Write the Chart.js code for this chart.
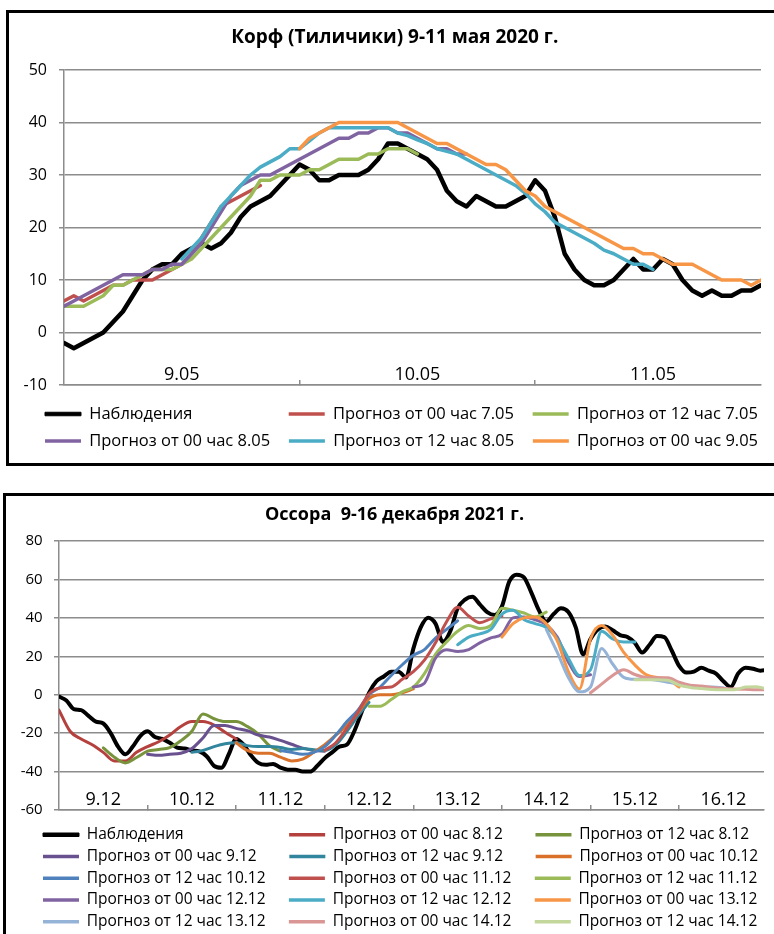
<!DOCTYPE html>
<html>
<head>
<meta charset="utf-8">
<script src="https://cdn.jsdelivr.net/npm/chart.js"></script>
<style>
  html, body { margin: 0; padding: 0; background: #fff; overflow: hidden; width: 774px; height: 934px; }
  .frame { position: absolute; border: 3px solid #000; box-sizing: border-box; }
  canvas { position: absolute; left: 0; }
</style>
</head>
<body>
<div class="frame" style="left:6px;top:10px;width:790px;height:456px"></div>
<div class="frame" style="left:3px;top:493px;width:790px;height:470px"></div>
<canvas id="korf" width="774" height="460" style="top:0"></canvas>
<canvas id="ossora" width="774" height="460" style="top:480px"></canvas>
<script>
const FONT = '"Open Sans", sans-serif';
const GRID = '#8c8c8c';

// ---------- Корф (Тиличики), hourly values, hour 0 = 00 h 9.05 ----------
const korfDays = ['9.05', '10.05', '11.05'];
const korfYTicks = [-10, 0, 10, 20, 30, 40, 50];
const korfLabels = ['Наблюдения', 'Прогноз от 00 час 7.05', 'Прогноз от 12 час 7.05',
  'Прогноз от 00 час 8.05', 'Прогноз от 12 час 8.05', 'Прогноз от 00 час 9.05'];
const korfStart = [0, 0, 0, 0, 12, 24];
const korfObs = [-2, -3, -2, -1, 0, 2, 4, 7, 10, 12, 13, 13, 15, 16, 17, 16, 17, 19, 22, 24,
  25, 26, 28, 30, 32, 31, 29, 29, 30, 30, 30, 31, 33, 36, 36, 35, 34, 33, 31, 27,
  25, 24, 26, 25, 24, 24, 25, 26, 29, 27, 22, 15, 12, 10, 9, 9, 10, 12, 14, 12,
  12, 14, 13, 10, 8, 7, 8, 7, 7, 8, 8, 9];
const korf00_0705 = [6, 7, 6, 7, 8, 9, 9, 10, 10, 10, 11, 12, 13, 15, 18, 21, 24, 25, 26, 27, 28];
const korf12_0705 = [5, 5, 5, 6, 7, 9, 9, 10, 11, 12, 12, 12, 13, 14, 16, 18, 20, 22, 24, 26,
  29, 29, 30, 30, 30, 31, 31, 32, 33, 33, 33, 34, 34, 35, 35, 35, 34];
const korf00_0805 = [5, 6, 7, 8, 9, 10, 11, 11, 11, 12, 12, 13, 13, 15, 17, 20, 23, 26, 28, 29,
  30, 30, 31, 32, 33, 34, 35, 36, 37, 37, 38, 38, 39, 39, 38, 38, 37, 36, 35, 35, 34, 34];
const korf12_0805 = [14, 16, 18, 21, 24, 26, 28, 30, 31.5, 32.5, 33.5, 35, 35, 36.5, 38, 39, 39, 39, 39, 39,
  39, 39, 38, 37.5, 36.7, 36, 35, 34.5, 34, 33, 32, 31, 30, 29, 28, 26.5, 24.5, 23, 21, 20,
  19, 18, 17, 15.7, 15, 14, 13, 13, 12];
const korf00_0905 = [35, 37, 38, 39, 40, 40, 40, 40, 40, 40, 40, 39, 38, 37, 36, 36, 35, 34, 33, 32,
  32, 31, 29, 27, 26, 24, 23, 22, 21, 20, 19, 18, 17, 16, 16, 15, 15, 14, 13, 13,
  13, 12, 11, 10, 10, 10, 9, 10];
const korfValues = [korfObs, korf00_0705, korf12_0705, korf00_0805, korf12_0805, korf00_0905];
const korfColors = ['#000000', '#C0504D', '#9BBB59', '#8064A2', '#4BACC6', '#F79646'];

// ---------- Оссора, hour 0 = 00 h 9.12; observations every 2 h, forecasts every 3 h ----------
const ossoraDays = ['9.12', '10.12', '11.12', '12.12', '13.12', '14.12', '15.12', '16.12'];
const ossoraYTicks = [-60, -40, -20, 0, 20, 40, 60, 80];
const ossoraLabels = ['Наблюдения', 'Прогноз от 00 час 8.12', 'Прогноз от 12 час 8.12',
  'Прогноз от 00 час 9.12', 'Прогноз от 12 час 9.12', 'Прогноз от 00 час 10.12',
  'Прогноз от 12 час 10.12', 'Прогноз от 00 час 11.12', 'Прогноз от 12 час 11.12',
  'Прогноз от 00 час 12.12', 'Прогноз от 12 час 12.12', 'Прогноз от 00 час 13.12',
  'Прогноз от 12 час 13.12', 'Прогноз от 00 час 14.12', 'Прогноз от 12 час 14.12'];
const ossoraStart = [0, 0, 12, 24, 36, 48, 60, 72, 84, 96, 108, 120, 132, 144, 156];
const ossoraStep = [2, 3, 3, 3, 3, 3, 3, 3, 3, 3, 3, 3, 3, 3, 3];
const ossoraObs = [-1, -3, -7.5, -8, -11, -14, -15, -20, -27, -31,
  -27, -21.5, -19, -22, -23, -25, -27.5, -28, -29, -29.5,
  -32, -37, -38, -31, -23, -26, -31.5, -35.5, -36.5, -36,
  -38, -39, -39, -40, -40, -37, -33, -30, -27, -26,
  -19, -9, 1, 7, 9.5, 12, 12, 9, 24, 35,
  40, 37, 27.5, 33, 45, 49.5, 51, 47, 43, 41.5,
  46, 59, 62.5, 61, 53, 44, 38, 42, 45, 43,
  35, 21, 29, 34, 35.5, 33.5, 31, 30, 27, 22,
  26, 30.5, 30, 23, 15, 11.5, 12, 14, 12.5, 11,
  7, 4, 11, 14, 13.5, 12.5, 13];
const oss00_0812 = [-8, -19, -23, -26, -30, -34.5, -34.5, -30, -27, -24.5, -21, -16.5, -14, -14, -15.8, -19.5, -23];
const oss12_0812 = [-27.7, -32.5, -35.5, -32.7, -29.4, -28.5, -27.5, -24, -19, -10, -12.5, -14, -14, -16.5, -20.5, -26.5, -29.4];
const oss00_0912 = [-31, -31.5, -31, -30.5, -28, -22.5, -16, -16, -17.5, -18.7, -21, -22, -23.8, -25.8, -27.8, -29, -29.4];
const oss12_0912 = [-30, -29, -27, -25.5, -25, -26.5, -27, -27, -27.5, -28.5, -28, -28.6, -29, -26, -19, -11, -4];
const oss00_1012 = [-25, -29, -30.5, -30.5, -32.5, -34.5, -33.5, -30, -26, -21, -16, -9.5, -2, 0, 0, 1, 3];
const oss12_1012 = [-29, -30, -31, -30, -27, -21, -14, -8, 0, 4, 10, 15.6, 20.5, 23.5, 29.5, 34, 38.5];
const oss00_1112 = [-29, -25, -17.5, -9, 0.5, 3.5, 4, 8, 12, 18, 27, 38, 45.5, 41, 37.5, 39.5, 41];
const oss12_1112 = [-6, -6, -2.5, 1.5, 4, 11, 21, 27.5, 33, 36, 34.5, 36, 45, 44, 42.5, 40.5, 43];
const oss00_1212 = [4, 6, 19, 23.4, 22.5, 23.5, 27, 29.6, 31.5, 40, 40.5, 39, 36.5, 30, 17, 9.5, 10.4];
const oss12_1212 = [26, 30, 31.7, 34, 42, 44, 39, 37, 35, 29, 19, 10, 13, 33, 29, 27.5, 27.5];
const oss00_1312 = [30, 37, 40, 40.5, 37, 28, 12, 3, 29, 36, 31, 22, 15.5, 10.5, 9, 8, 4];
const oss12_1312 = [34, 22, 9, 1.5, 4, 24, 16, 9, 8, 8, 7.5, 6.5, 5.5, 4.5, 4, 4, 3.6];
const oss00_1412 = [1, 5.5, 10, 13, 10.5, 9, 8.8, 8.8, 6.5, 5, 4.5, 3.8, 3.3, 3, 2.8, 2.6, 2.6];
const oss12_1412 = [7.8, 7.8, 7.8, 7.5, 5, 3.8, 3.2, 2.7, 2.6, 2.6, 4, 4.2, 2.6];
const ossoraValues = [ossoraObs, oss00_0812, oss12_0812, oss00_0912, oss12_0912, oss00_1012,
  oss12_1012, oss00_1112, oss12_1112, oss00_1212, oss12_1212, oss00_1312,
  oss12_1312, oss00_1412, oss12_1412];
const ossoraColors = ['#000000', '#B4413D', '#77933C', '#69518F', '#31859C', '#D9712A',
  '#4F81BD', '#C0504D', '#9BBB59', '#8064A2', '#4BACC6', '#F79646',
  '#95B3D7', '#D99694', '#C3D69B'];

Chart.defaults.font.family = FONT;
Chart.defaults.color = '#000';

const measureCtx = document.createElement('canvas').getContext('2d');

function textWidth(text, font) {
  measureCtx.font = font;
  return measureCtx.measureText(text).width;
}

function padTo(text, width, font) {
  let t = text;
  while (textWidth(t, font) < width) t += '\u200a';
  return t;
}

// shift a centred title to the left by adding invisible trailing space
function shiftLeft(text, px, font) {
  return padTo(text, textWidth(text, font) + 2 * px, font);
}

function buildDatasets(labels, values, starts, steps, colors, obsWidth, width, smooth) {
  const n = labels.length;
  return labels.map((label, i) => ({
    label: label,
    data: values[i].map((v, k) => ({ x: starts[i] + k * steps[i], y: v })),
    borderColor: colors[i],
    backgroundColor: colors[i],
    borderWidth: i === 0 ? obsWidth : width,
    pointRadius: 0,
    tension: smooth ? 0.4 : 0,
    cubicInterpolationMode: smooth ? 'monotone' : 'default',
    borderJoinStyle: 'round',
    borderCapStyle: 'round',
    fill: false,
    order: n - i
  }));
}

// day labels sit inside the plot, just above the bottom axis line
function dayAxis(days, max, size, height) {
  const ticks = [];
  days.forEach((d, i) => ticks.push(i * 24, i * 24 + 12));
  return {
    type: 'linear', min: 0, max: max,
    afterBuildTicks: s => { s.ticks = ticks.map(v => ({ value: v })); },
    afterFit: s => { s.height = height; },
    ticks: {
      autoSkip: false, maxRotation: 0, minRotation: 0, mirror: true, padding: -1, color: '#000',
      font: { size: size },
      callback: v => (v % 24 === 12 ? days[(v - 12) / 24] : '')
    },
    grid: {
      drawOnChartArea: false, tickLength: -5, lineWidth: 1.5,
      color: c => (c.tick && c.tick.value > 0 && c.tick.value % 24 === 0) ? GRID : 'rgba(0,0,0,0)'
    },
    border: { color: GRID, width: 1.5 }
  };
}

function valueAxis(ticks, size, gap, width) {
  const font = 'normal ' + size + 'px ' + FONT;
  const widest = Math.max(...ticks.map(v => textWidth(String(v), font)));
  return {
    type: 'linear', min: ticks[0], max: ticks[ticks.length - 1],
    afterBuildTicks: s => { s.ticks = ticks.map(v => ({ value: v })); },
    afterFit: s => { s.width = width; },
    ticks: {
      mirror: true, crossAlign: 'far', padding: -(gap + widest), color: '#000',
      font: { size: size }, callback: v => String(v)
    },
    grid: { color: GRID, lineWidth: 1.5, tickLength: 5 },
    border: { color: GRID, width: 1.5 }
  };
}

function legend(target, size, pad) {
  const font = 'normal ' + size + 'px ' + FONT;
  return {
    position: 'bottom', align: 'start',
    labels: {
      boxWidth: 36, boxHeight: 3.5, padding: pad, color: '#000', font: { size: size },
      generateLabels: chart => chart.data.datasets.map((ds, i) => ({
        text: i % 3 === 2 ? ds.label : padTo(ds.label, target, font),
        fillStyle: ds.borderColor, strokeStyle: ds.borderColor,
        lineWidth: i === 0 ? 1 : 0, fontColor: '#000', hidden: false, datasetIndex: i
      }))
    }
  };
}

function makeChart(id, o) {
  const titleFont = 'bold ' + o.titleSize + 'px ' + FONT;
  return new Chart(document.getElementById(id), {
    type: 'line',
    data: { datasets: o.datasets },
    options: {
      responsive: false, animation: false, events: [],
      layout: { padding: { left: o.left, right: 0, top: 0, bottom: o.bottom } },
      plugins: {
        tooltip: { enabled: false },
        title: {
          display: true, text: shiftLeft(o.title, o.titleShift, titleFont), color: '#000',
          font: { size: o.titleSize, weight: 'bold' },
          padding: { top: o.titleTop, bottom: o.titleBottom }
        },
        legend: legend(o.legendTarget, o.legendSize, o.legendPad)
      },
      scales: {
        x: o.x,
        y: o.y,
        yRight: {
          position: 'right', grid: { display: false }, border: { display: false },
          ticks: { display: false }, afterFit: s => { s.width = o.right; }
        }
      }
    }
  });
}

makeChart('korf', {
  title: 'Корф (Тиличики) 9-11 мая 2020 г.', titleSize: 19, titleShift: 8.75,
  titleTop: 26.6, titleBottom: 20.6,
  left: 34.5, right: 13, bottom: 0.75,
  legendTarget: 187.75, legendSize: 16.5, legendPad: 10.5,
  datasets: buildDatasets(korfLabels, korfValues, korfStart, [1, 1, 1, 1, 1, 1], korfColors, 4.5, 3.5, false),
  x: dayAxis(korfDays, 71, 18, 10.25),
  y: valueAxis(korfYTicks, 16, 17, 29.5)
});

makeChart('ossora', {
  title: 'Оссора  9-16 декабря 2021 г.', titleSize: 18, titleShift: 10.4,
  titleTop: 24.2, titleBottom: 15.2,
  left: 36.75, right: 10, bottom: 0.5,
  legendTarget: 195.5, legendSize: 15.5, legendPad: 6.25,
  datasets: buildDatasets(ossoraLabels, ossoraValues, ossoraStart, ossoraStep, ossoraColors, 4, 3, true),
  x: dayAxis(ossoraDays, 191, 18, 10.75),
  y: valueAxis(ossoraYTicks, 15, 16.3, 22.25)
});
</script>
</body>
</html>
